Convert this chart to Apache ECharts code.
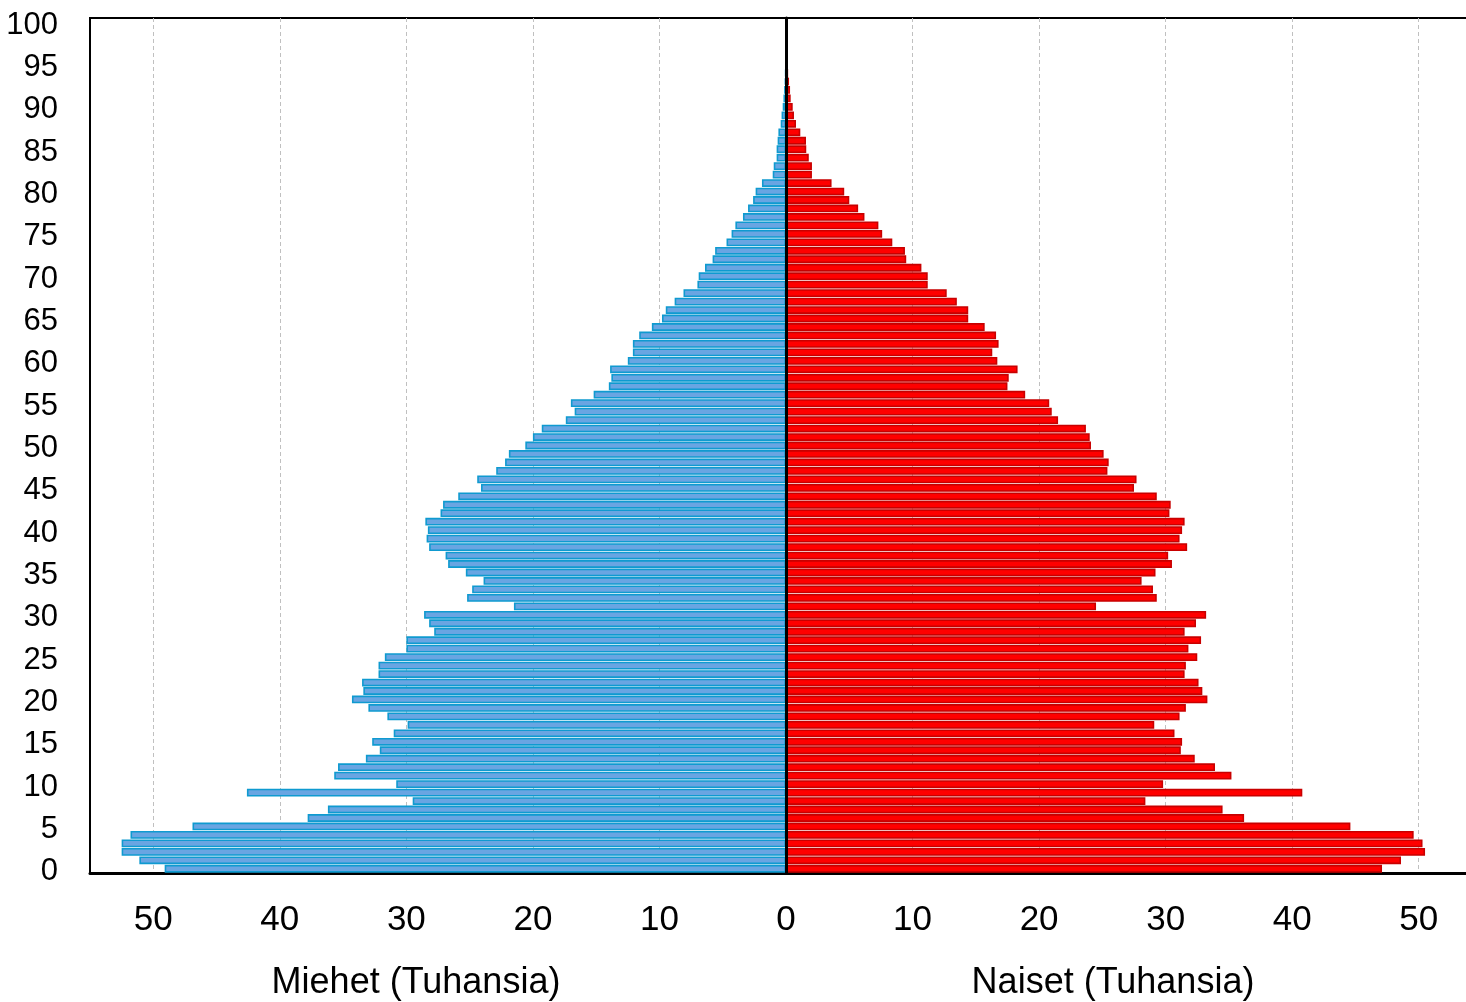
<!DOCTYPE html>
<html lang="fi">

<head>
    <meta charset="UTF-8">
    <title>Väestöpyramidi</title>
    <script src="https://cdn.jsdelivr.net/npm/echarts@6.0.0/dist/echarts.min.js"></script>
    <style>
        html, body { margin: 0; padding: 0; background: #fff; overflow: hidden; }
        #pyramid { width: 1466px; height: 1002px; }
    </style>
</head>

<body>
    <div id="pyramid"></div>
</body>
<script>
    // ikä 0..100
    var ages = [];
    for (var i = 0; i <= 100; i++) ages.push(String(i));

    // tuhansia, ikä 0 -> 100
    var miehet = [
        49.1, 51.1, 52.5, 52.5, 51.8, 46.9, 37.8, 36.2, 29.5, 42.6,
        30.8, 35.7, 35.4, 33.2, 32.1, 32.7, 31.0, 29.9, 31.5, 33.0,
        34.3, 33.4, 33.5, 32.2, 32.2, 31.7, 30.0, 30.0, 27.8, 28.2,
        28.6, 21.5, 25.2, 24.8, 23.9, 25.3, 26.7, 26.9, 28.2, 28.4,
        28.3, 28.5, 27.3, 27.1, 25.9, 24.1, 24.4, 22.9, 22.2, 21.9,
        20.6, 20.0, 19.3, 17.4, 16.7, 17.0, 15.2, 14.0, 13.8, 13.9,
        12.5, 12.1, 12.1, 11.6, 10.6, 9.8, 9.5, 8.8, 8.1, 7.0,
        6.9, 6.4, 5.8, 5.6, 4.7, 4.3, 4.0, 3.4, 3.0, 2.6,
        2.4, 1.9, 1.05, 0.97, 0.74, 0.74, 0.66, 0.6, 0.42, 0.35,
        0.26, 0.2, 0.15, 0.1, 0.06, 0.03, 0.02, 0, 0, 0,
        0
    ];
    var naiset = [
        47.1, 48.6, 50.5, 50.3, 49.6, 44.6, 36.2, 34.5, 28.4, 40.8,
        29.8, 35.2, 33.9, 32.3, 31.2, 31.3, 30.7, 29.1, 31.1, 31.6,
        33.3, 32.9, 32.6, 31.5, 31.6, 32.5, 31.8, 32.8, 31.5, 32.4,
        33.2, 24.5, 29.3, 29.0, 28.1, 29.2, 30.5, 30.2, 31.7, 31.1,
        31.3, 31.5, 30.3, 30.4, 29.3, 27.5, 27.7, 25.4, 25.5, 25.1,
        24.1, 24.0, 23.7, 21.5, 21.0, 20.8, 18.9, 17.5, 17.6, 18.3,
        16.7, 16.3, 16.8, 16.6, 15.7, 14.4, 14.4, 13.5, 12.7, 11.2,
        11.2, 10.7, 9.5, 9.4, 8.4, 7.6, 7.3, 6.2, 5.7, 5.0,
        4.6, 3.6, 2.05, 2.05, 1.8, 1.6, 1.58, 1.13, 0.79, 0.63,
        0.53, 0.37, 0.32, 0.24, 0.17, 0.1, 0.05, 0.02, 0, 0,
        0
    ];

    var font = 'Arial, "Liberation Sans", sans-serif';
    var chart = echarts.init(document.getElementById('pyramid'), null, { renderer: 'canvas' });

    var option = {
        animation: false,
        backgroundColor: '#fff',
        grid: {
            left: 90,
            width: 1392,   // oikea reuna jää kuvan ulkopuolelle
            top: 18,
            height: 855,
            outerBoundsMode: 'none',
            containLabel: false,
            show: true,
            borderColor: '#000',
            borderWidth: 2
        },
        xAxis: {
            type: 'value',
            min: -55,
            max: 55,
            splitNumber: 10,
            axisLine: { show: true, lineStyle: { color: '#000', width: 3 } },
            axisTick: { show: false },
            axisLabel: {
                margin: 30,
                fontSize: 35,
                fontFamily: font,
                color: '#000',
                formatter: function (v) {
                    return v % 10 === 0 ? String(Math.abs(v)) : '';
                }
            },
            splitLine: {
                show: true,
                lineStyle: { color: '#c0c0c0', width: 1, type: [4, 3] }
            }
        },
        yAxis: [{
            type: 'category',
            data: ages,
            position: 'left',
            axisLine: { show: true, onZero: false, lineStyle: { color: '#000', width: 2 } },
            axisTick: { show: false },
            axisLabel: {
                interval: 4,
                margin: 32,
                color: '#000',
                formatter: function (v) { return '{a|' + v + '}'; },
                rich: {
                    a: { fontSize: 31, fontFamily: font, color: '#000', padding: [6, 0, 0, 0] }
                }
            },
            splitLine: { show: false }
        }, {
            // keskiviiva nollan kohdalla
            type: 'category',
            data: ages,
            z: 10,
            axisLine: { show: true, onZero: true, lineStyle: { color: '#000', width: 3 } },
            axisTick: { show: false },
            axisLabel: { show: false },
            splitLine: { show: false }
        }],
        graphic: [{
            type: 'text',
            x: 416,
            y: 983,
            style: {
                text: 'Miehet (Tuhansia)',
                font: '36px ' + font,
                fill: '#000',
                align: 'center',
                verticalAlign: 'middle'
            }
        }, {
            type: 'text',
            x: 1113,
            y: 983,
            style: {
                text: 'Naiset (Tuhansia)',
                font: '36px ' + font,
                fill: '#000',
                align: 'center',
                verticalAlign: 'middle'
            }
        }],
        series: [{
            name: 'Miehet',
            type: 'bar',
            yAxisIndex: 0,
            barWidth: 7.8,
            barGap: '-100%',
            data: miehet.map(function (v) { return -v; }),
            itemStyle: { color: '#69a5e2', borderColor: '#0f9ad0', borderWidth: 1.6 }
        }, {
            name: 'Naiset',
            type: 'bar',
            yAxisIndex: 0,
            barWidth: 7.8,
            barGap: '-100%',
            data: naiset,
            itemStyle: { color: '#ff0000', borderColor: '#c80000', borderWidth: 1.6 }
        }]
    };
    chart.setOption(option);
</script>

</html>
